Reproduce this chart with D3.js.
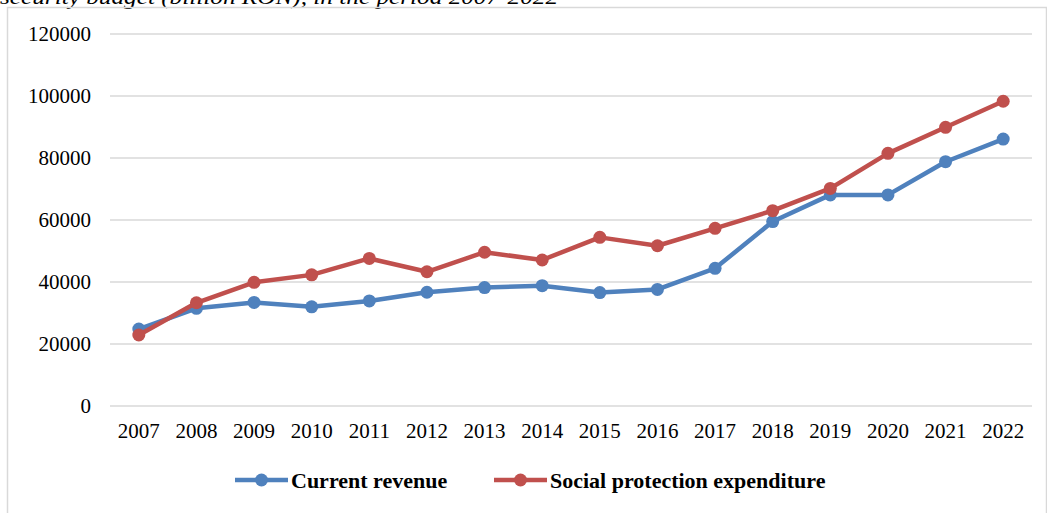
<!DOCTYPE html>
<html lang="en">
<head>
<meta charset="UTF-8" />
<title>Current revenue vs social protection expenditure</title>
<style>
  body { margin: 0; background: #fff; }
  svg text { font-family: "Liberation Serif", "Times New Roman", serif; fill: #000; }
</style>
</head>
<body>
<div id="chart"></div>
<script src="https://cdn.jsdelivr.net/npm/d3@7"></script>
<script>
// data
var years = ["2007","2008","2009","2010","2011","2012","2013","2014","2015","2016","2017","2018","2019","2020","2021","2022"];
var currentRevenue = [24800,31500,33400,32000,33900,36700,38200,38800,36600,37600,44400,59500,68100,68100,78800,86100];
var socialExpenditure = [22900,33300,39900,42300,47600,43300,49600,47100,54400,51700,57300,63000,70200,81500,89900,98300];
var yTicks = [0,20000,40000,60000,80000,100000,120000];
var seriesNames = ["Current revenue", "Social protection expenditure"];
var seriesColors = ["#4F81BD", "#C0504D"];

var w = 1047, h = 513;

var svg = d3.select("#chart")
  .append("svg")
  .attr("width", w)
  .attr("height", h);

// caption, cut off at the top of the picture like in the source
svg.append("text")
  .attr("x", 0)
  .attr("y", 4)
  .attr("textLength", 558)
  .attr("lengthAdjust", "spacingAndGlyphs")
  .style("font-style", "italic")
  .style("font-size", "22px")
  .text("security budget (billion RON), in the period 2007-2022");

// chart frame
svg.append("path")
  .attr("d", "M7.5," + h + "V7.5H1046.5V" + h)
  .attr("fill", "none")
  .attr("stroke", "#d9d9d9")
  .attr("stroke-width", 1.5);

var xScale = d3.scaleBand()
  .domain(years)
  .range([110, 1032]);

var yScale = d3.scaleLinear()
  .domain([0, 120000])
  .range([406, 34]);

// gridlines
svg.append("g")
  .selectAll("line")
  .data(yTicks)
  .enter().append("line")
  .attr("x1", 110)
  .attr("x2", 1032)
  .attr("y1", function(d) { return yScale(d); })
  .attr("y2", function(d) { return yScale(d); })
  .attr("stroke", "#d9d9d9")
  .attr("stroke-width", 1.5);

var yAxis = d3.axisLeft(yScale).tickValues(yTicks).tickFormat(d3.format("d")).tickSize(0).tickPadding(19);
svg.append("g")
  .attr("transform", "translate(110,0)")
  .call(yAxis)
  .call(function(g) { g.select(".domain").remove(); })
  .selectAll("text")
  .style("font-family", "Liberation Serif, serif")
  .style("font-size", "21px");

var xAxis = d3.axisBottom(xScale).tickSize(0).tickPadding(17);
svg.append("g")
  .attr("transform", "translate(0,406)")
  .call(xAxis)
  .call(function(g) { g.select(".domain").remove(); })
  .selectAll("text")
  .style("font-family", "Liberation Serif, serif")
  .style("font-size", "21px");

var line = d3.line()
  .x(function(d, i) { return xScale(years[i]) + xScale.bandwidth() / 2; })
  .y(function(d) { return yScale(d); });

[currentRevenue, socialExpenditure].forEach(function(vals, k) {
  svg.append("path")
    .datum(vals)
    .attr("d", line)
    .attr("fill", "none")
    .attr("stroke", seriesColors[k])
    .attr("stroke-width", 4.5)
    .attr("stroke-linejoin", "round");

  svg.selectAll("circle.s" + k)
    .data(vals)
    .enter().append("circle")
    .attr("class", "s" + k)
    .attr("cx", function(d, i) { return xScale(years[i]) + xScale.bandwidth() / 2; })
    .attr("cy", function(d) { return yScale(d); })
    .attr("r", 6.5)
    .attr("fill", seriesColors[k]);
});

// legend
var legendX = [235, 494];
seriesNames.forEach(function(name, k) {
  var g = svg.append("g").attr("transform", "translate(" + legendX[k] + ",480)");
  g.append("line")
    .attr("x1", 0).attr("x2", 53)
    .attr("stroke", seriesColors[k])
    .attr("stroke-width", 4.5);
  g.append("circle")
    .attr("cx", 26.5).attr("r", 6.5)
    .attr("fill", seriesColors[k]);
  g.append("text")
    .attr("x", 56)
    .attr("y", 7.5)
    .style("font-weight", "bold")
    .style("font-size", "22px")
    .text(name);
});
</script>
</body>
</html>
